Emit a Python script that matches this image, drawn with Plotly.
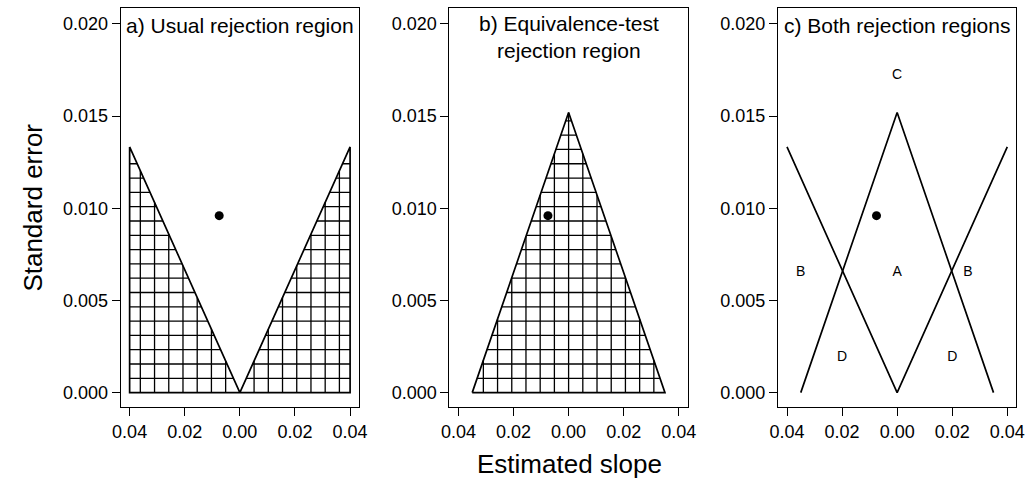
import numpy as np
import plotly.graph_objects as go

# ---- data ----
usual_x = [-0.04, 0.0, 0.04]          # usual test boundary (V shape)
usual_y = [0.01333, 0.0, 0.01333]
equiv_x = [-0.035, 0.0, 0.035]        # equivalence-test boundary (triangle)
equiv_y = [0.0, 0.0152, 0.0]
estimate_x = [-0.0075]                # the observed estimate
estimate_y = [0.0096]
region_labels = ["C", "B", "A", "B", "D", "D"]
region_label_x = [0.0, -0.035, 0.0, 0.0257, -0.02, 0.02]
region_label_y = [0.0172, 0.0065, 0.0065, 0.0065, 0.0019, 0.0019]
panel_titles = ["a) Usual rejection region",
                "b) Equivalence-test<br>rejection region",
                "c) Both rejection regions"]
x_tickvals = [-0.04, -0.02, 0.0, 0.02, 0.04]
x_ticktext = ["0.04", "0.02", "0.00", "0.02", "0.04"]
y_tickvals = [0.0, 0.005, 0.010, 0.015, 0.020]
y_ticktext = ["0.000", "0.005", "0.010", "0.015", "0.020"]

FONT = "Liberation Sans"
HATCH_DX = 0.00516
HATCH_DY = 0.000776
LW_OUT = 1.7
LW_HATCH = 1.3

xmax = usual_x[2]
slope_u = usual_y[2] / xmax          # y = slope_u * |x|
base = equiv_x[2]
apex = equiv_y[1]                    # y = apex * (1 - |x|/base)


def join(segs):
    xs, ys = [], []
    for (x0, y0, x1, y1) in segs:
        xs += [x0, x1, None]
        ys += [y0, y1, None]
    return xs, ys


# hatch for the usual region: 0 <= y <= slope_u*|x|, |x| <= xmax
segs_a = []
k = 1
while k * HATCH_DX < xmax:
    for s in (-1, 1):
        x = s * k * HATCH_DX
        segs_a.append((x, 0.0, x, slope_u * abs(x)))
    k += 1
j = 1
while j * HATCH_DY < usual_y[2]:
    y = j * HATCH_DY
    xi = y / slope_u
    segs_a.append((-xmax, y, -xi, y))
    segs_a.append((xi, y, xmax, y))
    j += 1

# hatch for the equivalence region
segs_b = [(0.0, 0.0, 0.0, apex)]
k = 1
while k * HATCH_DX < base:
    for s in (-1, 1):
        x = s * k * HATCH_DX
        segs_b.append((x, 0.0, x, apex * (1 - abs(x) / base)))
    k += 1
j = 1
while j * HATCH_DY < apex:
    y = j * HATCH_DY
    xi = base * (1 - y / apex)
    segs_b.append((-xi, y, xi, y))
    j += 1

fig = go.Figure()

# panel a
hx, hy = join(segs_a)
fig.add_trace(go.Scatter(x=hx, y=hy, mode="lines", line=dict(color="black", width=LW_HATCH),
                         xaxis="x", yaxis="y", hoverinfo="skip"))
fig.add_trace(go.Scatter(x=[usual_x[0], usual_x[0], usual_x[2], usual_x[2], usual_x[1], usual_x[0]],
                         y=[usual_y[0], 0.0, 0.0, usual_y[2], usual_y[1], usual_y[0]],
                         mode="lines", line=dict(color="black", width=LW_OUT), xaxis="x", yaxis="y"))
fig.add_trace(go.Scatter(x=estimate_x, y=estimate_y, mode="markers",
                         marker=dict(color="black", size=9), xaxis="x", yaxis="y"))

# panel b
hx, hy = join(segs_b)
fig.add_trace(go.Scatter(x=hx, y=hy, mode="lines", line=dict(color="black", width=LW_HATCH),
                         xaxis="x2", yaxis="y2", hoverinfo="skip"))
fig.add_trace(go.Scatter(x=equiv_x + [equiv_x[0]], y=equiv_y + [equiv_y[0]],
                         mode="lines", line=dict(color="black", width=LW_OUT), xaxis="x2", yaxis="y2"))
fig.add_trace(go.Scatter(x=estimate_x, y=estimate_y, mode="markers",
                         marker=dict(color="black", size=9), xaxis="x2", yaxis="y2"))

# panel c
fig.add_trace(go.Scatter(x=usual_x, y=usual_y, mode="lines",
                         line=dict(color="black", width=LW_OUT), xaxis="x3", yaxis="y3"))
fig.add_trace(go.Scatter(x=equiv_x, y=equiv_y, mode="lines",
                         line=dict(color="black", width=LW_OUT), xaxis="x3", yaxis="y3"))
fig.add_trace(go.Scatter(x=estimate_x, y=estimate_y, mode="markers",
                         marker=dict(color="black", size=9), xaxis="x3", yaxis="y3"))
fig.add_trace(go.Scatter(x=region_label_x, y=region_label_y, mode="text", text=region_labels,
                         textfont=dict(family=FONT, size=14, color="black"),
                         xaxis="x3", yaxis="y3"))

W, H = 1035, 478
x_domains = [(114.3, 356.7), (448.3, 690.5), (782.0, 1024.2)]
y_dom = [1 - 407.0 / H, 1 - 8.3 / H]

ax_common = dict(showline=True, mirror=True, linecolor="black", linewidth=1,
                 ticks="outside", ticklen=8, tickwidth=1, tickcolor="black",
                 showgrid=False, zeroline=False, fixedrange=True,
                 tickfont=dict(family=FONT, size=18, color="black"))

layout = dict(width=W, height=H, margin=dict(l=0, r=0, t=0, b=0),
              paper_bgcolor="white", plot_bgcolor="white", showlegend=False)
for i, (a, b) in enumerate(x_domains):
    sfx = "" if i == 0 else str(i + 1)
    layout["xaxis" + sfx] = dict(ax_common, domain=[a / W, b / W], range=[-0.0433, 0.0433],
                                 tickvals=x_tickvals, ticktext=x_ticktext,
                                 anchor="y" + sfx)
    layout["yaxis" + sfx] = dict(ax_common, domain=y_dom, range=[-0.00078, 0.02085],
                                 tickvals=y_tickvals, ticktext=y_ticktext,
                                 anchor="x" + sfx)
fig.update_layout(**layout)

title_y = [0.958, 0.927, 0.958]
for i, t in enumerate(panel_titles):
    sfx = "" if i == 0 else str(i + 1)
    fig.add_annotation(text=t, xref="x" + sfx + " domain", yref="y" + sfx + " domain",
                       x=0.5, y=title_y[i], xanchor="center", yanchor="middle",
                       showarrow=False, font=dict(family=FONT, size=21, color="black"))

fig.add_annotation(text="Estimated slope", xref="paper", yref="paper", x=570 / W, y=1 - 464 / H,
                   xanchor="center", yanchor="middle", showarrow=False,
                   font=dict(family=FONT, size=26, color="black"))
fig.add_annotation(text="Standard error", xref="paper", yref="paper", x=25 / W, y=1 - 208 / H,
                   xanchor="center", yanchor="middle", textangle=-90, showarrow=False,
                   font=dict(family=FONT, size=26, color="black"))

fig.write_html("out.html", config={"displayModeBar": False},
               post_script="document.body.style.margin='0';document.body.style.overflow='hidden';")
